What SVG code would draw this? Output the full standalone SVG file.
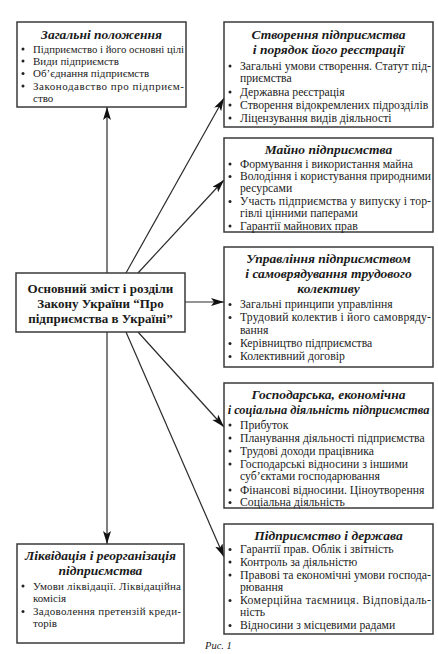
<svg xmlns="http://www.w3.org/2000/svg" width="438" height="654" viewBox="0 0 438 654">
<style>
.box{fill:#fff;stroke:#3a3a3a;stroke-width:1.5}
.t{font-family:"Liberation Serif","Times New Roman",serif;font-size:13.5px;font-weight:bold;font-style:italic;fill:#1a1a1a;text-anchor:middle}
.b{font-family:"Liberation Serif","Times New Roman",serif;font-size:11px;fill:#222}
.r .b{font-size:11.7px}
.c{font-family:"Liberation Serif","Times New Roman",serif;font-size:13px;font-weight:bold;fill:#1a1a1a;text-anchor:middle}
.d{fill:#222}
.cap{font-family:"Liberation Serif","Times New Roman",serif;font-size:10.5px;font-style:italic;fill:#222}
.ln{stroke:#2a2a2a;stroke-width:1.2;fill:none;marker-end:url(#ah)}
</style>
<defs>
<marker id="ah" markerUnits="userSpaceOnUse" markerWidth="14" markerHeight="10" refX="13" refY="4" orient="auto">
<path d="M0,0 L13,4 L0,8 L3,4 Z" fill="#111"/>
</marker>
</defs>
<rect width="438" height="654" fill="#fff"/>

<g id="connectors">
<line class="ln" x1="107" y1="273" x2="107" y2="107"/>
<line class="ln" x1="126" y1="273" x2="224" y2="98"/>
<line class="ln" x1="138" y1="273" x2="224" y2="180"/>
<line class="ln" x1="185" y1="302" x2="224" y2="302"/>
<line class="ln" x1="138" y1="332" x2="224" y2="427"/>
<line class="ln" x1="126" y1="332" x2="224" y2="557"/>
<line class="ln" x1="107" y1="332" x2="107" y2="544"/>
</g>

<g id="n-general">
<rect class="box" x="17" y="22" width="169" height="85"/>
<text class="t" x="101.5" y="39">Загальні положення</text>
<circle class="d" cx="23" cy="49" r="1.5"/><text class="b" x="33" y="52.5" textLength="151" lengthAdjust="spacingAndGlyphs">Підприємство і його основні цілі</text>
<circle class="d" cx="23" cy="61" r="1.5"/><text class="b" x="33" y="64.5">Види підприємств</text>
<circle class="d" cx="23" cy="73.5" r="1.5"/><text class="b" x="33" y="77">Об’єднання підприємств</text>
<circle class="d" cx="23" cy="86" r="1.5"/><text class="b" x="33" y="89.5" textLength="151" lengthAdjust="spacing">Законодавство про підприєм-</text>
<text class="b" x="33" y="101.5">ство</text>
</g>

<g id="n-creation" class="r">
<rect class="box" x="224" y="22" width="209" height="105"/>
<text class="t" x="328.5" y="39">Створення підприємства</text>
<text class="t" x="328.5" y="54">і порядок його реєстрації</text>
<circle class="d" cx="230" cy="66" r="1.5"/><text class="b" x="240" y="69.5" textLength="191" lengthAdjust="spacing">Загальні умови створення. Статут під-</text>
<text class="b" x="240" y="82">приємства</text>
<circle class="d" cx="230" cy="92" r="1.5"/><text class="b" x="240" y="95.5">Державна реєстрація</text>
<circle class="d" cx="230" cy="105" r="1.5"/><text class="b" x="240" y="108.5">Створення відокремлених підрозділів</text>
<circle class="d" cx="230" cy="118" r="1.5"/><text class="b" x="240" y="121.5">Ліцензування видів діяльності</text>
</g>

<g id="n-property" class="r">
<rect class="box" x="224" y="138" width="209" height="94"/>
<text class="t" x="328.5" y="154">Майно підприємства</text>
<circle class="d" cx="230" cy="164" r="1.5"/><text class="b" x="240" y="167.5">Формування і використання майна</text>
<circle class="d" cx="230" cy="176.5" r="1.5"/><text class="b" x="240" y="180" textLength="191" lengthAdjust="spacingAndGlyphs">Володіння і користування природними</text>
<text class="b" x="240" y="192">ресурсами</text>
<circle class="d" cx="230" cy="201.5" r="1.5"/><text class="b" x="240" y="205" textLength="191" lengthAdjust="spacing">Участь підприємства у випуску і тор-</text>
<text class="b" x="240" y="217">гівлі цінними паперами</text>
<circle class="d" cx="230" cy="226" r="1.5"/><text class="b" x="240" y="229.5">Гарантії майнових прав</text>
</g>

<g id="n-management" class="r">
<rect class="box" x="224" y="247" width="209" height="120"/>
<text class="t" x="328.5" y="263">Управління підприємством</text>
<text class="t" x="328.5" y="278">і самоврядування трудового</text>
<text class="t" x="328.5" y="293">колективу</text>
<circle class="d" cx="230" cy="304.5" r="1.5"/><text class="b" x="240" y="308">Загальні принципи управління</text>
<circle class="d" cx="230" cy="317.5" r="1.5"/><text class="b" x="240" y="321" textLength="191" lengthAdjust="spacing">Трудовий колектив і його самовряду-</text>
<text class="b" x="240" y="333.5">вання</text>
<circle class="d" cx="230" cy="343.5" r="1.5"/><text class="b" x="240" y="347">Керівництво підприємства</text>
<circle class="d" cx="230" cy="356.5" r="1.5"/><text class="b" x="240" y="360">Колективний договір</text>
</g>

<g id="n-economic" class="r">
<rect class="box" x="224" y="383" width="209" height="125"/>
<text class="t" x="328.5" y="399">Господарська, економічна</text>
<text class="t" x="328.5" y="414" style="font-size:12.4px">і соціальна діяльність підприємства</text>
<circle class="d" cx="230" cy="425" r="1.5"/><text class="b" x="240" y="428.5">Прибуток</text>
<circle class="d" cx="230" cy="438" r="1.5"/><text class="b" x="240" y="441.5">Планування діяльності підприємства</text>
<circle class="d" cx="230" cy="451" r="1.5"/><text class="b" x="240" y="454.5">Трудові доходи працівника</text>
<circle class="d" cx="230" cy="464" r="1.5"/><text class="b" x="240" y="467.5">Господарські відносини з іншими</text>
<text class="b" x="240" y="480">суб’єктами господарювання</text>
<circle class="d" cx="230" cy="490" r="1.5"/><text class="b" x="240" y="493.5">Фінансові відносини. Ціноутворення</text>
<circle class="d" cx="230" cy="502.5" r="1.5"/><text class="b" x="240" y="506">Соціальна діяльність</text>
</g>

<g id="n-state" class="r">
<rect class="box" x="224" y="524" width="209" height="110"/>
<text class="t" x="328.5" y="540">Підприємство і держава</text>
<circle class="d" cx="230" cy="549.5" r="1.5"/><text class="b" x="240" y="553">Гарантії прав. Облік і звітність</text>
<circle class="d" cx="230" cy="562" r="1.5"/><text class="b" x="240" y="565.5">Контроль за діяльністю</text>
<circle class="d" cx="230" cy="575" r="1.5"/><text class="b" x="240" y="578.5" textLength="191" lengthAdjust="spacingAndGlyphs">Правові та економічні умови господа-</text>
<text class="b" x="240" y="591">рювання</text>
<circle class="d" cx="230" cy="600.5" r="1.5"/><text class="b" x="240" y="604" textLength="191" lengthAdjust="spacing">Комерційна таємниця. Відповідаль-</text>
<text class="b" x="240" y="616">ність</text>
<circle class="d" cx="230" cy="625.5" r="1.5"/><text class="b" x="240" y="629">Відносини з місцевими радами</text>
</g>

<g id="n-center">
<rect class="box" x="16" y="273" width="169" height="59"/>
<text class="c" x="100.5" y="293">Основний зміст і розділи</text>
<text class="c" x="100.5" y="308">Закону України “Про</text>
<text class="c" x="100.5" y="323">підприємства в Україні”</text>
</g>

<g id="n-liquidation">
<rect class="box" x="17" y="544" width="167" height="99"/>
<text class="t" x="100.5" y="560">Ліквідація і реорганізація</text>
<text class="t" x="100.5" y="575">підприємства</text>
<circle class="d" cx="23" cy="586" r="1.5"/><text class="b" x="33" y="589.5" textLength="148" lengthAdjust="spacing">Умови ліквідації. Ліквідаційна</text>
<text class="b" x="33" y="602">комісія</text>
<circle class="d" cx="23" cy="611.5" r="1.5"/><text class="b" x="33" y="615" textLength="148" lengthAdjust="spacing">Задоволення претензій креди-</text>
<text class="b" x="33" y="627">торів</text>
</g>

<text class="cap" x="205" y="649">Рис. 1</text>
</svg>
